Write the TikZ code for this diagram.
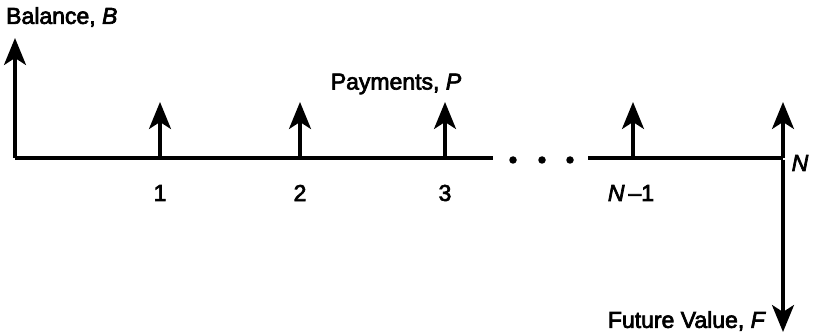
\documentclass[tikz,border=0pt]{standalone}
\usepackage{fontspec}
\setmainfont{Liberation Sans}[FakeBold=3]
\usetikzlibrary{arrows.meta}
\begin{document}
\begin{tikzpicture}[x=1pt,y=-1pt,
  axis/.style={line width=3.2pt},
  flow/.style={line width=3.2pt,-{Stealth[length=27pt,width=22pt,inset=7pt]}},
  lbl/.style={inner sep=0pt,font=\fontsize{23}{26}\selectfont},
  dot/.style={circle,fill=black,inner sep=0pt,minimum size=7.5pt}]
\useasboundingbox (0,0) rectangle (815,334);
\coordinate (o) at (15,158);
\coordinate (e1) at (493,158);
\coordinate (s2) at (588,158);
\coordinate (n) at (783,158);
\coordinate (t0) at (15,38);
\foreach \i/\x in {1/160,2/300,3/445,4/633}{
  \coordinate (b\i) at (\x,158);
  \coordinate (t\i) at (\x,102);
}
\coordinate (tn) at (783,102);
\coordinate (bn) at (783,332);
\draw[axis] (o) -- (e1);
\draw[axis] (s2) -- (n);
\node[dot] (d1) at (513,160) {};
\node[dot] (d2) at (542,160) {};
\node[dot] (d3) at (570,160) {};
\draw[flow] (o) -- (t0);
\foreach \i in {1,2,3,4}{ \draw[flow] (b\i) -- (t\i); }
\draw[flow] (n) -- (tn);
\draw[flow] ([yshift=-1.6pt]n) -- (bn);
\node[lbl,anchor=west] (bal) at (6,17) {Balance, \textit{B}};
\node[lbl] (pay) at (396,84) {Payments, \textit{P}};
\node[lbl] (l1) at (160,193) {1};
\node[lbl] (l2) at (300,193) {2};
\node[lbl] (l3) at (445,193) {3};
\node[lbl] (l4) at (631,193) {\textit{N}\kern4pt–1};
\node[lbl] (ln) at (800,163) {\textit{N}};
\node[lbl,anchor=east] (fv) at (766,321) {Future Value, \textit{F}};
\end{tikzpicture}
\end{document}
